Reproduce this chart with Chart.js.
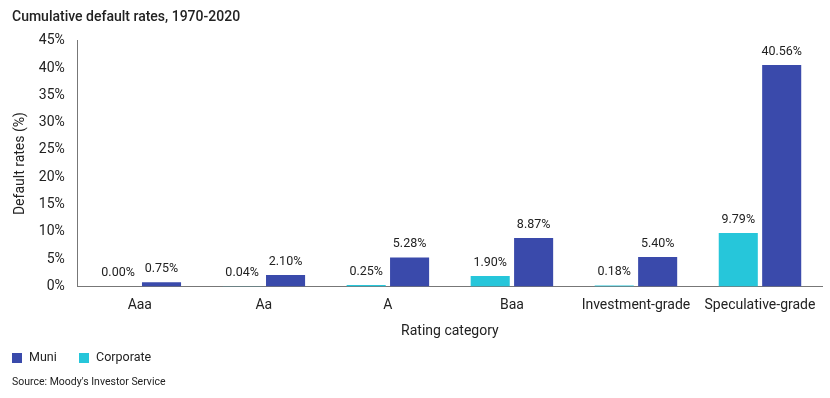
<!DOCTYPE html>
<html>
<head>
<meta charset="utf-8">
<script src="https://cdn.jsdelivr.net/npm/chart.js@4"></script>
<style>
  body { margin: 0; background: #fff; }
  #wrap { width: 830px; height: 398px; }
</style>
</head>
<body>
<div id="wrap"><canvas id="myChart"></canvas></div>
<script>
const categories = ['Aaa', 'Aa', 'A', 'Baa', 'Investment-grade', 'Speculative-grade']
const corporateValues = [0.00, 0.04, 0.25, 1.90, 0.18, 9.79]
const muniValues = [0.75, 2.10, 5.28, 8.87, 5.40, 40.56]
const yTicks = [0, 5, 10, 15, 20, 25, 30, 35, 40, 45]

const FONT = 'Roboto'
const TEXT = '#222'
const BLUE = '#3A4AAB'
const CYAN = '#26C6DA'

// draws the percent value above each bar
const valueLabels = {
  id: 'valueLabels',
  afterDatasetsDraw(chart) {
    const ctx = chart.ctx
    ctx.save()
    ctx.font = `12.5px ${FONT}`
    ctx.fillStyle = TEXT
    ctx.textAlign = 'center'
    ctx.textBaseline = 'bottom'
    chart.data.datasets.forEach((ds, i) => {
      chart.getDatasetMeta(i).data.forEach((bar, j) => {
        ctx.fillText(ds.data[j].toFixed(2) + '%', bar.x, bar.y - 7)
      })
    })
    ctx.restore()
  }
}

// legend (Muni first) and source line under the x axis
const footer = {
  id: 'footer',
  afterDraw(chart) {
    const ctx = chart.ctx
    const items = [
      { text: 'Muni', color: BLUE, x: 12 },
      { text: 'Corporate', color: CYAN, x: 79 }
    ]
    ctx.save()
    ctx.textBaseline = 'middle'
    ctx.font = `12.5px ${FONT}`
    items.forEach(it => {
      ctx.fillStyle = it.color
      ctx.fillRect(it.x, 353, 10, 10)
      ctx.fillStyle = TEXT
      ctx.fillText(it.text, it.x + 17, 358)
    })
    ctx.font = `10.5px ${FONT}`
    ctx.fillText("Source: Moody's Investor Service", 12, 382)
    ctx.restore()
  }
}

const data = {
  labels: categories,
  datasets: [
    {
      label: 'Corporate',
      data: corporateValues,
      backgroundColor: CYAN,
      categoryPercentage: 0.7,
      barPercentage: 0.9
    },
    {
      label: 'Muni',
      data: muniValues,
      backgroundColor: BLUE,
      categoryPercentage: 0.7,
      barPercentage: 0.9
    }
  ]
}

const config = {
  type: 'bar',
  data: data,
  plugins: [valueLabels, footer],
  options: {
    responsive: true,
    maintainAspectRatio: false,
    animation: false,
    layout: { padding: { left: 12, right: 8, top: 0, bottom: 58 } },
    plugins: {
      title: {
        display: true,
        text: 'Cumulative default rates, 1970-2020',
        align: 'start',
        color: TEXT,
        font: { family: FONT, size: 14, weight: '500' },
        padding: { top: 9, bottom: 15 }
      },
      legend: { display: false },
      tooltip: { enabled: false }
    },
    scales: {
      x: {
        grid: { display: false },
        border: { display: true, color: '#777' },
        ticks: { color: TEXT, font: { family: FONT, size: 14 } },
        title: {
          display: true,
          text: 'Rating category',
          color: TEXT,
          font: { family: FONT, size: 14 },
          padding: { top: 6, bottom: 0 }
        }
      },
      y: {
        min: 0,
        max: 45,
        afterBuildTicks: (axis) => { axis.ticks = yTicks.map(v => ({ value: v })) },
        grid: { display: false },
        border: { display: true, color: '#777' },
        ticks: {
          color: TEXT,
          font: { family: FONT, size: 14 },
          padding: 5,
          callback: (v) => v + '%'
        },
        title: {
          display: true,
          text: 'Default rates (%)',
          color: TEXT,
          font: { family: FONT, size: 14 },
          padding: { top: 0, bottom: 5 }
        }
      }
    }
  }
}

const myChart = new Chart(document.getElementById('myChart'), config)
</script>
</body>
</html>
